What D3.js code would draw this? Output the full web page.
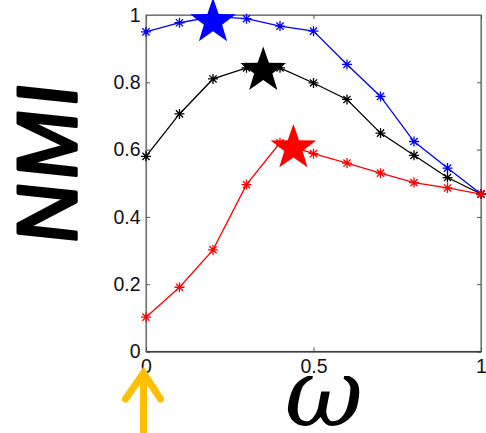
<!DOCTYPE html>
<html lang="en">

<head>
    <meta charset="UTF-8">
    <script src="https://d3js.org/d3.v7.min.js"></script>
    <title>NMI vs omega</title>
    <style>
        body { margin: 0; background: white; }
        svg { display: block; }
    </style>
</head>

<body>
    <script type="text/javascript">

        const w = 486;
        const h = 433;

        // data
        const omega = [0, 0.1, 0.2, 0.3, 0.4, 0.5, 0.6, 0.7, 0.8, 0.9, 1];
        const nmiBlue = [0.95, 0.977, 0.995, 0.989, 0.967, 0.952, 0.853, 0.758, 0.624, 0.545, 0.468];
        const nmiBlack = [0.58, 0.706, 0.81, 0.843, 0.843, 0.798, 0.749, 0.649, 0.583, 0.517, 0.468];
        const nmiRed = [0.102, 0.191, 0.302, 0.496, 0.62, 0.588, 0.56, 0.53, 0.502, 0.486, 0.468];
        const seriesColors = ["blue", "black", "red"];
        const starOmega = [0.2, 0.35, 0.44];
        const starNmi = [0.98, 0.835, 0.605];
        const yTicks = [0, 0.2, 0.4, 0.6, 0.8, 1];
        const xTicks = [0, 0.5, 1];

        const xScale = d3.scaleLinear().domain([0, 1]).range([146, 481]);
        const yScale = d3.scaleLinear().domain([0, 1]).range([351.5, 15]);

        const svg = d3.select("body")
            .append("svg")
            .attr("width", w)
            .attr("height", h);

        // frame (box on, matlab style)
        svg.append("rect")
            .attr("x", xScale(0))
            .attr("y", yScale(1))
            .attr("width", xScale(1) - xScale(0))
            .attr("height", yScale(0) - yScale(1))
            .attr("fill", "none")
            .attr("stroke", "#777")
            .attr("stroke-width", 1.2);

        const tickFont = "Liberation Sans, Arial, sans-serif";

        // axes with inward ticks
        const yAxis = d3.axisLeft(yScale).tickValues(yTicks).tickSizeInner(-4).tickSizeOuter(0)
            .tickPadding(5.5).tickFormat(d3.format("~g"));
        const yAxisR = d3.axisRight(yScale).tickValues(yTicks).tickSizeInner(-4).tickSizeOuter(0).tickFormat("");
        const xAxis = d3.axisBottom(xScale).tickValues(xTicks).tickSizeInner(-4).tickSizeOuter(0)
            .tickPadding(8).tickFormat(d3.format("~g"));
        const xAxisT = d3.axisTop(xScale).tickValues(xTicks).tickSizeInner(-4).tickSizeOuter(0).tickFormat("");

        svg.append("g").attr("transform", "translate(" + xScale(0) + ",0)").call(yAxis);
        svg.append("g").attr("transform", "translate(" + xScale(1) + ",0)").call(yAxisR);
        const gx = svg.append("g").attr("transform", "translate(0," + yScale(0) + ")").call(xAxis);
        svg.append("g").attr("transform", "translate(0," + yScale(1) + ")").call(xAxisT);

        svg.selectAll(".domain").attr("stroke", "#777").attr("stroke-width", 1.2);
        gx.select(".domain").attr("stroke", "#111");
        svg.selectAll(".tick line").attr("stroke", "#555");
        svg.selectAll(".tick text")
            .attr("fill", "#111")
            .style("font-family", tickFont)
            .style("font-size", "19.5px");

        // asterisk marker
        function asterisk(cx, cy, s) {
            const d = s * 0.72;
            return "M" + (cx - s) + "," + cy + "H" + (cx + s)
                + "M" + cx + "," + (cy - s) + "V" + (cy + s)
                + "M" + (cx - d) + "," + (cy - d) + "L" + (cx + d) + "," + (cy + d)
                + "M" + (cx - d) + "," + (cy + d) + "L" + (cx + d) + "," + (cy - d);
        }

        // five point star
        function star(cx, cy, r) {
            const pts = [];
            for (let i = 0; i < 10; i++) {
                const rr = i % 2 === 0 ? r : r * 0.4;
                const a = -Math.PI / 2 + i * Math.PI / 5;
                pts.push([cx + rr * Math.cos(a), cy + rr * Math.sin(a)]);
            }
            return "M" + pts.map(p => p.join(",")).join("L") + "Z";
        }

        const line = d3.line()
            .x(d => xScale(d[0]))
            .y(d => yScale(d[1]));

        [nmiBlue, nmiBlack, nmiRed].forEach((vals, k) => {
            const pts = omega.map((o, i) => [o, vals[i]]);
            svg.append("path")
                .datum(pts)
                .attr("d", line)
                .attr("fill", "none")
                .attr("stroke", seriesColors[k])
                .attr("stroke-width", 1.3);

            svg.selectAll(null)
                .data(pts)
                .enter()
                .append("path")
                .attr("d", d => asterisk(xScale(d[0]), yScale(d[1]), 5))
                .attr("stroke", seriesColors[k])
                .attr("stroke-width", 1.3)
                .attr("fill", "none");
        });

        // stars at the maxima
        svg.selectAll(null)
            .data(starOmega)
            .enter()
            .append("path")
            .attr("d", (d, i) => star(xScale(d), yScale(starNmi[i]), 24))
            .attr("fill", (d, i) => seriesColors[i]);

        // y label, slight slant only
        svg.append("text")
            .attr("transform", "translate(76,166) rotate(-90) skewX(-6)")
            .attr("text-anchor", "middle")
            .style("font-family", tickFont)
            .style("font-size", "84px")
            .attr("fill", "black")
            .attr("stroke", "black")
            .attr("stroke-width", 3.5)
            .attr("stroke-linejoin", "round")
            .attr("textLength", 160)
            .text("NMI");

        // x label
        svg.append("text")
            .attr("x", 324)
            .attr("y", 426)
            .attr("text-anchor", "middle")
            .style("font-family", "DejaVu Serif, serif")
            .style("font-style", "italic")
            .style("font-size", "96px")
            .attr("fill", "black")
            .text("\u03c9");

        // yellow arrow pointing at omega = 0
        const ax = xScale(0) - 2.5;
        svg.append("path")
            .attr("d", "M" + ax + ",433V373M" + (ax - 18) + ",399L" + ax + ",373L" + (ax + 17) + ",399")
            .attr("fill", "none")
            .attr("stroke", "#FFBE00")
            .attr("stroke-width", 7)
            .attr("stroke-linecap", "round")
            .attr("stroke-linejoin", "miter");

    </script>
</body>

</html>
